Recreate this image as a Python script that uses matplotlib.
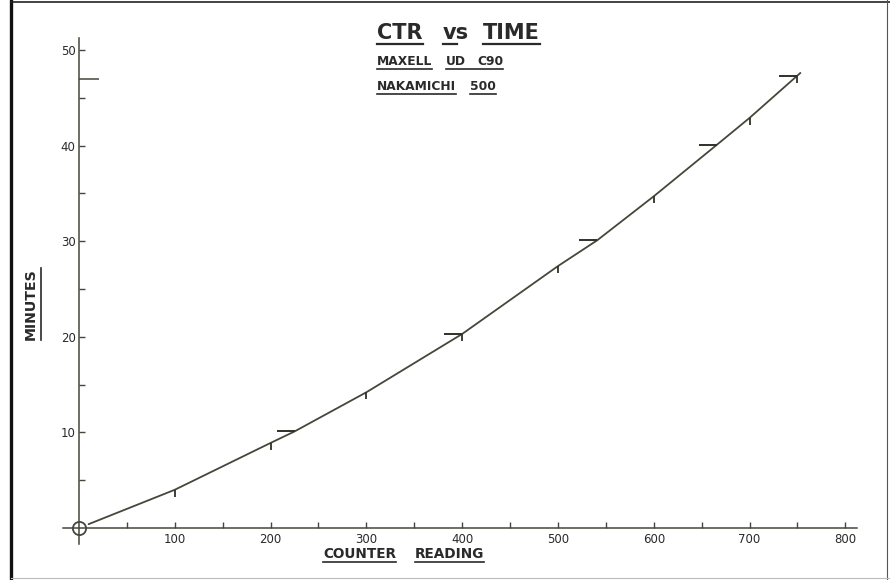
import matplotlib
matplotlib.use('Agg')
import matplotlib.pyplot as plt
from matplotlib.lines import Line2D

# curve (counter reading -> minutes)
counter = [10, 100, 200, 225, 300, 400, 500, 541, 600, 666, 700, 753]
minutes = [0.4, 4.0, 8.9, 10.1, 14.2, 20.3, 27.4, 30.1, 34.7, 40.1, 42.9, 47.6]

# small vertical ticks hung under the curve at every 100 counts (+ end mark)
hund_ctr = [100, 200, 300, 400, 500, 600, 700, 749]
hund_min = [4.0, 8.9, 14.2, 20.3, 27.4, 34.7, 42.9, 47.3]

# horizontal dashes at whole-minute marks
mark_ctr = [225, 400, 541, 666, 749]
mark_min = [10.1, 20.3, 30.1, 40.1, 47.3]

tape_len = 47
xticks = [100, 200, 300, 400, 500, 600, 700, 800]
yticks = [10, 20, 30, 40, 50]

W, H = 890, 580
INK = '#45473a'
TXT = '#2a2a2a'

fig = plt.figure(figsize=(W / 100, H / 100), dpi=100)
ax = fig.add_axes([0, 0, 1, 1])
# pixel mapping: x = 79 + 0.958*c, y = 528 - 9.56*m
ax.set_xlim(-79 / 0.958, (W - 79) / 0.958)
ax.set_ylim((528 - H) / 9.56, 528 / 9.56)
ax.patch.set_alpha(0)

for s in ('top', 'right'):
    ax.spines[s].set_visible(False)
ax.spines['left'].set_position(('data', 0))
ax.spines['bottom'].set_position(('data', 0))
ax.spines['left'].set_bounds(-1.7, 51.3)
ax.spines['bottom'].set_bounds(-17, 812)
for s in ('left', 'bottom'):
    ax.spines[s].set_color(INK)
    ax.spines[s].set_linewidth(1.1)

ax.set_xticks(xticks)
ax.set_xticklabels([str(v) for v in xticks])
ax.set_xticks([v - 50 for v in xticks], minor=True)
ax.set_yticks(yticks)
ax.set_yticklabels([str(v) for v in yticks])
ax.set_yticks([v - 5 for v in yticks], minor=True)
ax.tick_params(which='both', direction='in', length=4.2, width=1.0, color=INK,
               labelsize=8.5, labelcolor=TXT)
ax.tick_params(axis='x', pad=3.5)
ax.tick_params(axis='y', pad=2.5)

# curve + marks
ax.plot(counter, minutes, color=INK, lw=1.3, solid_capstyle='round')
ax.plot(hund_ctr, hund_min, ls='none', marker=[(0, 0), (0, -1)], ms=10,
        mec='#2f3028', mew=1.3)
ax.plot(mark_ctr, mark_min, ls='none', marker=[(-1, 0), (0, 0)], ms=26,
        mec='#2f3028', mew=1.4)
ax.plot([0], [tape_len], ls='none', marker=[(0, 0), (1, 0)], ms=29,
        mec=INK, mew=1.1)
ax.plot([0], [0], ls='none', marker='o', ms=9.5, mfc='none', mec=INK, mew=1.3)


def px(x, y):
    return x / W, 1 - y / H


words = [
    ('CTR', 377, 39, 15), ('vs', 443, 39, 15), ('TIME', 483, 39, 15),
    ('MAXELL', 377, 65, 8.8), ('UD', 446, 65, 8.8), ('C90', 477, 65, 8.8),
    ('NAKAMICHI', 377, 90, 8.8), ('500', 470, 90, 8.8),
    ('COUNTER', 323, 558, 9.8), ('READING', 415, 558, 9.8),
]
texts = []
for w, x, y, fs in words:
    t = fig.text(*px(x, y), w, fontsize=fs, fontweight='bold', color=TXT,
                 ha='left', va='baseline')
    texts.append((w, t, y, fs))

ylab = fig.text(*px(38, 304), 'MINUTES', fontsize=10.2, fontweight='bold',
                color=TXT, rotation=90, ha='right', va='center')

fig.canvas.draw()
r = fig.canvas.get_renderer()
# underlines
groups = {'UD': 'C90'}
done = {}
for w, t, y, fs in texts:
    done[w] = (t.get_window_extent(r), y, fs)
for w, (bb, y, fs) in done.items():
    if w == 'C90':
        continue
    x0, x1 = bb.x0, bb.x1
    if w in groups:
        x1 = done[groups[w]][0].x1
    if w == 'vs':
        x1 = x0 + (x1 - x0) * 0.55
    off = 4.5 if fs > 12 else 3.5
    yy = 1 - (y + off) / H
    fig.add_artist(Line2D([x0 / W, x1 / W], [yy, yy], color=TXT,
                          lw=1.6 if fs > 12 else 1.2))
bb = ylab.get_window_extent(r)
fig.add_artist(Line2D([41 / W, 41 / W], [bb.y0 / H, bb.y1 / H], color=TXT, lw=1.2))

# drawing border
fig.add_artist(Line2D([11 / W, 11 / W], [0, 1], color='#111111', lw=2.4))
fig.add_artist(Line2D([11 / W, 1], [1 - 2 / H, 1 - 2 / H], color='#222222', lw=1.2))
fig.add_artist(Line2D([887 / W, 887 / W], [0, 1], color='#555555', lw=0.8))
fig.add_artist(Line2D([11 / W, 1], [2 / H, 2 / H], color='#bbbbbb', lw=0.8))

fig.savefig('out.png', dpi=100, facecolor='white')
